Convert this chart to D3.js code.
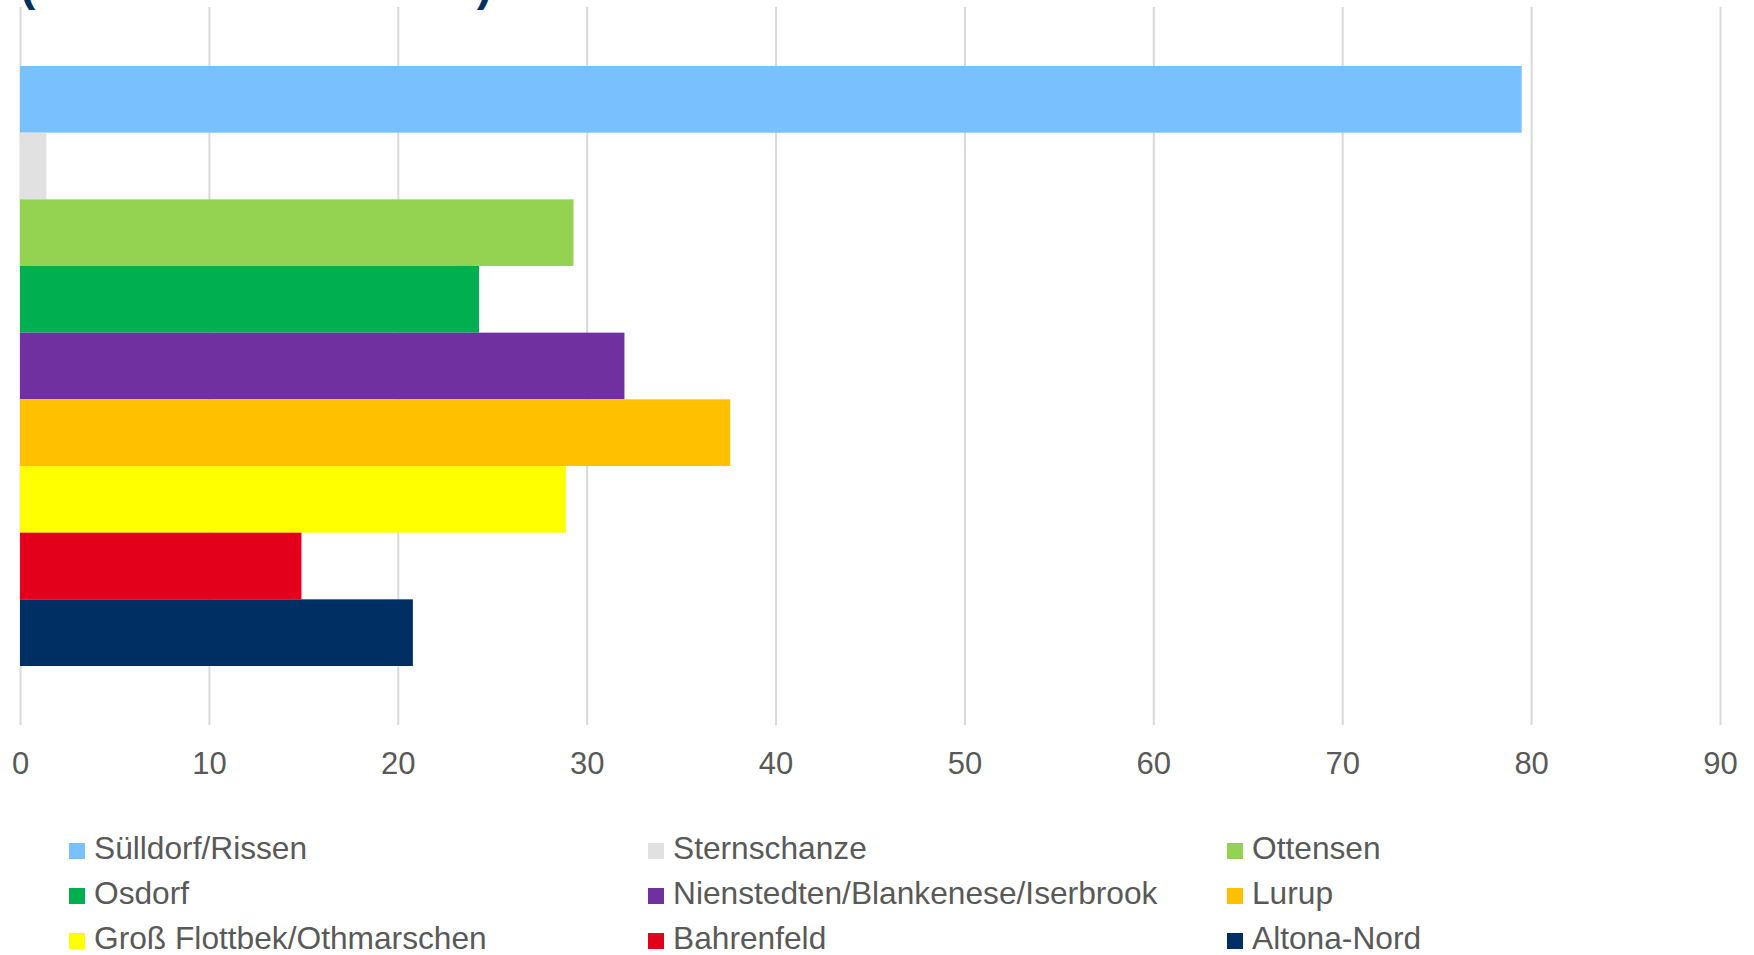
<!DOCTYPE html>
<html lang="de">
<head>
    <meta charset="UTF-8">
    <title>Altona Stadtteile</title>
    <script src="https://d3js.org/d3.v7.min.js"></script>
    <style>
        body {
            margin: 0;
            padding: 0;
            background: #fff;
            font-family: "Liberation Sans", Arial, sans-serif;
        }
        .grid line {
            stroke: #d9d9d9;
            stroke-width: 2px;
        }
        .grid text {
            fill: #595959;
            font-size: 31px;
        }
        .legend text {
            fill: #595959;
            font-size: 31.7px;
        }
        .title {
            fill: #003063;
            font-size: 46px;
            font-weight: bold;
        }
    </style>
</head>
<body>
    <script>
        // Stadtteile in order from top to bottom
        const districts = [
            'Sülldorf/Rissen', 'Sternschanze', 'Ottensen', 'Osdorf',
            'Nienstedten/Blankenese/Iserbrook', 'Lurup',
            'Groß Flottbek/Othmarschen', 'Bahrenfeld', 'Altona-Nord'
        ];
        const values = [79.5, 1.4, 29.3, 24.3, 32.0, 37.6, 28.9, 14.9, 20.8];
        const colors = [
            '#78c1fe', '#e1e1e1', '#94d251', '#00b050',
            '#7030a0', '#ffc000', '#ffff00', '#e2001a', '#003063'
        ];
        const xTicks = [0, 10, 20, 30, 40, 50, 60, 70, 80, 90];

        const width = 1754, height = 955;
        const plotTop = 7, plotBottom = 725;

        const svg = d3.select('body').append('svg')
            .attr('width', width)
            .attr('height', height);

        // title is cut off at the top edge, only the bracket bottoms show
        svg.append('text')
            .attr('class', 'title')
            .attr('x', 20)
            .attr('y', -0.5)
            .attr('textLength', 472)
            .attr('lengthAdjust', 'spacing')
            .text('(Anteil in Prozent)');

        const x = d3.scaleLinear()
            .domain([0, 90])
            .range([20, 1720]);

        const y = d3.scaleBand()
            .domain(districts)
            .range([plotTop, plotBottom])
            .paddingInner(0)
            .paddingOuter(0.885);

        const grid = svg.append('g')
            .attr('class', 'grid')
            .attr('transform', `translate(0,${plotBottom})`)
            .call(d3.axisBottom(x)
                .tickValues(xTicks)
                .tickSize(-(plotBottom - plotTop))
                .tickPadding(27)
                .tickFormat(d3.format('d')));
        grid.select('.domain').remove();
        grid.attr('font-family', null).attr('font-size', null);

        svg.append('g')
            .selectAll('rect')
            .data(districts)
            .enter().append('rect')
            .attr('x', x(0))
            .attr('y', d => y(d))
            .attr('width', (d, i) => x(values[i]) - x(0))
            .attr('height', y.bandwidth())
            .attr('fill', (d, i) => colors[i]);

        // legend: 3 columns, 3 rows
        const legend = svg.append('g').attr('class', 'legend');
        const item = legend.selectAll('g')
            .data(districts)
            .enter().append('g')
            .attr('transform', (d, i) => `translate(${69 + (i % 3) * 579},${859 + Math.floor(i / 3) * 45})`);

        item.append('rect')
            .attr('x', 0)
            .attr('y', -16)
            .attr('width', 16)
            .attr('height', 16)
            .attr('fill', (d, i) => colors[i]);

        item.append('text')
            .attr('x', 25)
            .attr('y', 0)
            .text(d => d);
    </script>
</body>
</html>
